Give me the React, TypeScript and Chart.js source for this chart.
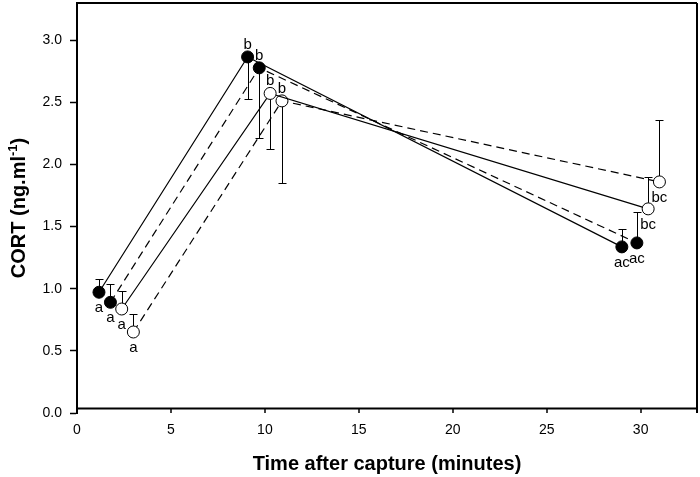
import React, { useEffect, useRef } from 'react';
import { Chart, registerables } from 'chart.js';

Chart.register(...registerables);

// ---- data ----
const xTicks = [0, 5, 10, 15, 20, 25, 30];
const yTicks = [0, 0.5, 1.0, 1.5, 2.0, 2.5, 3.0];

// series 1: filled circles, solid line
const time1 = [1.17, 9.08, 29.0];
const cort1 = [0.972, 2.866, 1.337];
const err1 = [0.11, 0.335, 0.148];
const letters1 = ['a', 'b', 'ac'];
// series 2: filled circles, dashed line
const time2 = [1.78, 9.7, 29.8];
const cort2 = [0.891, 2.778, 1.369];
const err2 = [0.151, 0.564, 0.249];
const letters2 = ['a', 'b', 'ac'];
// series 3: open circles, solid line
const time3 = [2.38, 10.28, 30.4];
const cort3 = [0.837, 2.572, 1.643];
const err3 = [0.143, 0.446, 0.257];
const letters3 = ['a', 'b', 'bc'];
// series 4: open circles, dashed line
const time4 = [3.0, 10.91, 31.0];
const cort4 = [0.652, 2.512, 1.86];
const err4 = [0.143, 0.66, 0.497];
const letters4 = ['a', 'b', 'bc'];

// +1: error bar drawn upward, -1: downward (per time point)
const errDirection = [1, -1, 1];
// letter placed below (+1) or above (-1) the point
const letterSide = [1, -1, 1];

const xTitle = 'Time after capture (minutes)';
const yTitleMain = 'CORT (ng.ml';
const yTitleSup = '-1';
const yTitleEnd = ')';

const FAMILY = '"Liberation Sans", Arial, Helvetica, sans-serif';

const seriesTimes = [time1, time2, time3, time4];
const seriesCort = [cort1, cort2, cort3, cort4];
const seriesErr = [err1, err2, err3, err4];
const seriesLetters = [letters1, letters2, letters3, letters4];
const seriesFilled = [true, true, false, false];
const seriesDashed = [false, true, false, true];

const annotPlugin = {
  id: 'annot',
  beforeDatasetsDraw(chart: any) {
    const { ctx } = chart;
    const xs = chart.scales.x;
    const ys = chart.scales.y;
    ctx.save();
    ctx.strokeStyle = '#000';
    ctx.lineWidth = 1;
    seriesTimes.forEach((times, i) => {
      times.forEach((t, j) => {
        const px = Math.round(xs.getPixelForValue(t)) + 0.5;
        const py0 = ys.getPixelForValue(seriesCort[i][j]);
        const py1 = Math.round(ys.getPixelForValue(seriesCort[i][j] + errDirection[j] * seriesErr[i][j])) + 0.5;
        ctx.beginPath();
        ctx.moveTo(px, py0);
        ctx.lineTo(px, py1);
        ctx.moveTo(px - 4, py1);
        ctx.lineTo(px + 4, py1);
        ctx.stroke();
      });
    });
    ctx.restore();
  },
  afterDatasetsDraw(chart: any) {
    const { ctx } = chart;
    const xs = chart.scales.x;
    const ys = chart.scales.y;
    ctx.save();
    ctx.fillStyle = '#000';
    ctx.font = `15px ${FAMILY}`;
    ctx.textAlign = 'center';
    ctx.textBaseline = 'alphabetic';
    seriesTimes.forEach((times, i) => {
      times.forEach((t, j) => {
        const px = xs.getPixelForValue(t);
        const py = ys.getPixelForValue(seriesCort[i][j]);
        const dy = letterSide[j] > 0 ? 20 : -8;
        ctx.fillText(seriesLetters[i][j], px, py + dy);
      });
    });
    ctx.restore();
  },
  afterDraw(chart: any) {
    const { ctx, chartArea } = chart;
    const xs = chart.scales.x;
    const { left, right, top, bottom } = chartArea;
    ctx.save();
    ctx.strokeStyle = '#000';
    // frame: top and right
    ctx.lineWidth = 2;
    ctx.beginPath();
    ctx.moveTo(left - 1, top);
    ctx.lineTo(right, top);
    ctx.moveTo(right, top);
    ctx.lineTo(right, bottom);
    ctx.stroke();
    // x axis line (slightly above zero, as in reference)
    const axisY = bottom - 4.5;
    ctx.beginPath();
    ctx.moveTo(left - 1, axisY);
    ctx.lineTo(right + 1, axisY);
    ctx.stroke();
    // x ticks
    ctx.lineWidth = 1.5;
    xTicks.forEach((v) => {
      const px = Math.round(xs.getPixelForValue(v));
      ctx.beginPath();
      ctx.moveTo(px, axisY);
      ctx.lineTo(px, bottom);
      ctx.stroke();
    });
    // x title
    ctx.fillStyle = '#000';
    ctx.font = `bold 20px ${FAMILY}`;
    ctx.textAlign = 'center';
    ctx.textBaseline = 'alphabetic';
    ctx.fillText(xTitle, (left + right) / 2, 470);
    // y title with superscript
    const mainFont = `bold 20px ${FAMILY}`;
    const supFont = `bold 13px ${FAMILY}`;
    ctx.font = mainFont;
    const w1 = ctx.measureText(yTitleMain).width;
    const w3 = ctx.measureText(yTitleEnd).width;
    ctx.font = supFont;
    const w2 = ctx.measureText(yTitleSup).width;
    const total = w1 + w2 + w3;
    ctx.translate(25, (top + bottom) / 2);
    ctx.rotate(-Math.PI / 2);
    ctx.textAlign = 'left';
    let x = -total / 2;
    ctx.font = mainFont;
    ctx.fillText(yTitleMain, x, 0);
    x += w1;
    ctx.font = supFont;
    ctx.fillText(yTitleSup, x, -8);
    x += w2;
    ctx.font = mainFont;
    ctx.fillText(yTitleEnd, x, 0);
    ctx.restore();
  },
};

export default function App() {
  const canvasRef = useRef<HTMLCanvasElement | null>(null);

  useEffect(() => {
    if (!canvasRef.current) return;
    const datasets = seriesTimes.map((times, i) => ({
      data: times.map((t, j) => ({ x: t, y: seriesCort[i][j] })),
      borderColor: '#000',
      borderWidth: 1.2,
      borderDash: seriesDashed[i] ? [8, 5] : [],
      pointRadius: 6,
      pointBorderWidth: 1,
      pointBorderColor: '#000',
      pointBackgroundColor: seriesFilled[i] ? '#000' : '#fff',
      fill: false,
      tension: 0,
      showLine: true,
      clip: false,
    }));

    const chart = new Chart(canvasRef.current, {
      type: 'line',
      data: { datasets },
      options: {
        animation: false,
        responsive: false,
        layout: { autoPadding: false, padding: { top: 3, right: 3, left: 0, bottom: 0 } },
        plugins: { legend: { display: false }, tooltip: { enabled: false } },
        scales: {
          x: {
            type: 'linear',
            min: 0,
            max: 33,
            afterBuildTicks: (s: any) => {
              s.ticks = xTicks.map((v) => ({ value: v }));
            },
            afterFit: (s: any) => {
              s.height = 64;
              s.paddingLeft = 0;
              s.paddingRight = 0;
            },
            border: { display: false },
            grid: { display: true, drawOnChartArea: false, drawTicks: false, color: 'rgba(0,0,0,0)' },
            ticks: {
              padding: 9,
              color: '#000',
              font: { size: 14, family: FAMILY },
              maxRotation: 0,
              autoSkip: false,
            },
          },
          y: {
            type: 'linear',
            min: 0,
            max: 3.3,
            afterBuildTicks: (s: any) => {
              s.ticks = yTicks.map((v) => ({ value: v }));
            },
            afterFit: (s: any) => {
              s.width = 77;
              s.paddingTop = 0;
              s.paddingBottom = 0;
            },
            border: { display: true, color: '#000', width: 2 },
            grid: { drawOnChartArea: false, drawTicks: true, tickLength: 7, color: '#000', tickWidth: 1.5 },
            ticks: {
              padding: 8,
              color: '#000',
              font: { size: 14, family: FAMILY },
              callback: (v: any) => Number(v).toFixed(1),
            },
          },
        },
      },
      plugins: [annotPlugin],
    } as any);

    return () => chart.destroy();
  }, []);

  return (
    <div style={{ position: 'fixed', left: 0, top: 0, width: 700, height: 477, background: '#fff' }}>
      <canvas ref={canvasRef} width={700} height={477} style={{ display: 'block' }} />
    </div>
  );
}
